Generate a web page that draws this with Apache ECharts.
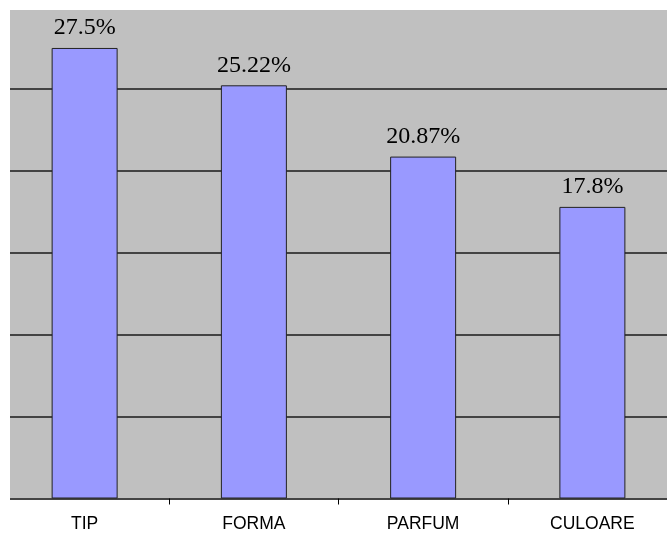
<!DOCTYPE html>
<html>
<head>
<meta charset="utf-8">
<script src="https://cdn.jsdelivr.net/npm/echarts@6/dist/echarts.min.js"></script>
<style>html,body{margin:0;padding:0;background:#fff;overflow:hidden}#c{width:677px;height:535px}</style>
</head>
<body>
<div id="c"></div>
<script>
var categories = ['TIP', 'FORMA', 'PARFUM', 'CULOARE'];
var values = [27.5, 25.22, 20.87, 17.8];
var valueLabels = ['27.5%', '25.22%', '20.87%', '17.8%'];
var yMin = 0, yMax = 30, yStep = 5;

var chart = echarts.init(document.getElementById('c'));
chart.setOption({
  animation: false,
  grid: {left: 0, right: 0, top: 7, bottom: 36.5, show: true, backgroundColor: '#C0C0C0', borderWidth: 0},
  xAxis: {
    type: 'category', data: categories,
    axisLine: {lineStyle: {color: '#444', width: 2}},
    axisTick: {show: true, length: 6, lineStyle: {color: '#000', width: 1}},
    axisLabel: {fontFamily: 'Liberation Sans, Arial', fontSize: 17.5, color: '#000', margin: 17}
  },
  yAxis: {
    type: 'value', min: yMin, max: yMax, interval: yStep,
    axisLine: {show: false}, axisTick: {show: false}, axisLabel: {show: false},
    splitLine: {lineStyle: {color: '#1a1a1a', width: 1.5}}
  },
  series: [{
    type: 'bar', data: values, barWidth: 66,
    itemStyle: {color: '#9999FF', borderColor: '#222', borderWidth: 1},
    label: {show: true, position: 'top', distance: 8,
      fontFamily: 'Liberation Serif, Times New Roman', fontSize: 24, color: '#000',
      formatter: function (p) { return valueLabels[p.dataIndex]; }}
  }],
  graphic: [
    {type: 'rect', shape: {x: 0, y: 0, width: 10, height: 535}, style: {fill: '#fff'}, z: 100},
    {type: 'rect', shape: {x: 0, y: 0, width: 677, height: 10}, style: {fill: '#fff'}, z: 100}
  ]
});
</script>
</body>
</html>
